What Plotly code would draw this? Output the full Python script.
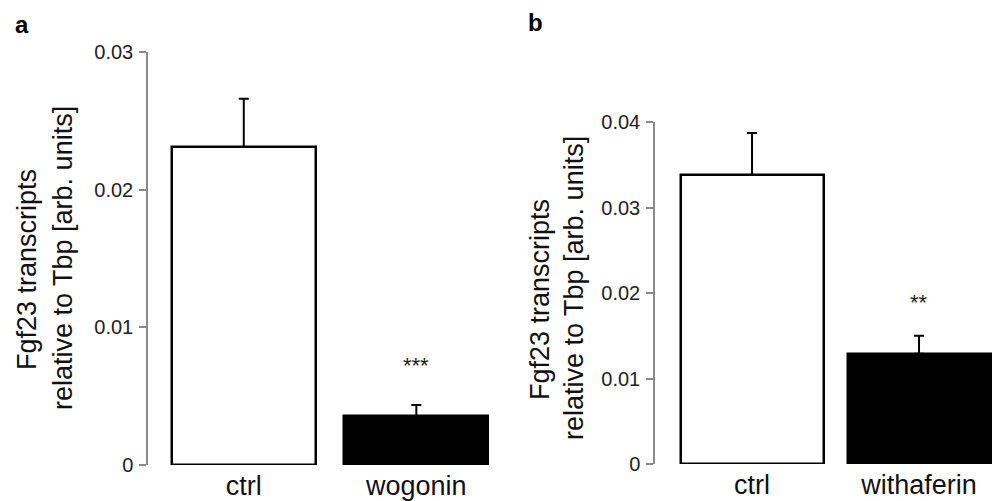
import plotly.graph_objects as go

# ---- data ----
cats_a = ["ctrl", "wogonin"]
vals_a = [0.0231, 0.00355]
err_a = [0.0035, 0.0008]
sig_a = ["", "***"]

cats_b = ["ctrl", "withaferin"]
vals_b = [0.0338, 0.0129]
err_b = [0.0049, 0.0021]
sig_b = ["", "**"]

ticks_a = [0, 0.01, 0.02, 0.03]
ticklabels_a = ["0", "0.01", "0.02", "0.03"]
ticks_b = [0, 0.01, 0.02, 0.03, 0.04]
ticklabels_b = ["0", "0.01", "0.02", "0.03", "0.04"]

ytitle_line1 = "Fgf23 transcripts"
ytitle_line2 = "relative to Tbp [arb. units]"

W, H = 992, 501
FONT = "Liberation Sans, Arial, sans-serif"
fill_colors = ["white", "black"]

fig = go.Figure()


def add_panel(cats, vals, errs, sig, xa, ya, width, star_shift):
    fig.add_trace(go.Bar(
        x=cats, y=vals, width=width,
        marker=dict(color=fill_colors, line=dict(color="black", width=2.5)),
        error_y=dict(type="data", symmetric=False, array=errs,
                     arrayminus=[0] * len(errs), color="black",
                     thickness=2, width=5),
        xaxis=xa, yaxis=ya, showlegend=False, hoverinfo="skip",
    ))
    for c, v, e, s in zip(cats, vals, errs, sig):
        if s:
            fig.add_annotation(x=c, y=v + e, xref=xa, yref=ya, text=s,
                               showarrow=False, xanchor="center", yanchor="middle",
                               yshift=star_shift,
                               font=dict(family=FONT, size=22, color="#222"))


add_panel(cats_a, vals_a, err_a, sig_a, "x", "y", 0.835, 40)
add_panel(cats_b, vals_b, err_b, sig_b, "x2", "y2", 0.856, 33)

yaxis_common = dict(
    showgrid=False, zeroline=False, showline=True, linecolor="#8a8a8a",
    linewidth=1.5, ticks="outside", ticklen=7, tickcolor="#8a8a8a",
    tickwidth=1.5, tickfont=dict(family=FONT, size=20, color="#222"),
    ticklabelstandoff=2, automargin=False,
)
xaxis_common = dict(
    showgrid=False, zeroline=False, showline=False, ticks="",
    tickfont=dict(family=FONT, size=27, color="#111"),
    type="category", automargin=False, ticklabelstandoff=2,
)

fig.update_layout(
    template="none",
    width=W, height=H, margin=dict(l=0, r=0, t=0, b=0, autoexpand=False),
    paper_bgcolor="white", plot_bgcolor="white",
    bargap=0,
    xaxis=dict(domain=[148 / W, 494 / W], range=[-0.555, 1.45], anchor="y", **xaxis_common),
    yaxis=dict(domain=[(H - 465) / H, (H - 52) / H], range=[0, 0.03],
               tickvals=ticks_a, ticktext=ticklabels_a, anchor="x", **yaxis_common),
    xaxis2=dict(domain=[655 / W, 1.0], range=[-0.581, 1.437], anchor="y2", **xaxis_common),
    yaxis2=dict(domain=[(H - 464) / H, (H - 122) / H], range=[0, 0.04],
                tickvals=ticks_b, ticktext=ticklabels_b, anchor="x2", **yaxis_common),
)

# y-axis titles (two lines each) and panel letters
ann = [
    dict(text=ytitle_line1, x=27 / W, y=(H - 270) / H, textangle=-90),
    dict(text=ytitle_line2, x=63 / W, y=(H - 258) / H, textangle=-90),
    dict(text=ytitle_line1, x=540 / W, y=(H - 300) / H, textangle=-90),
    dict(text=ytitle_line2, x=574 / W, y=(H - 288) / H, textangle=-90),
]
for a in ann:
    fig.add_annotation(xref="paper", yref="paper", xanchor="center", yanchor="middle",
                       showarrow=False, font=dict(family=FONT, size=27, color="#111"), **a)

fig.add_annotation(text="<b>a</b>", xref="paper", yref="paper", x=22 / W, y=(H - 24) / H,
                   xanchor="center", yanchor="middle", showarrow=False,
                   font=dict(family=FONT, size=24, color="black"))
fig.add_annotation(text="<b>b</b>", xref="paper", yref="paper", x=535 / W, y=(H - 22) / H,
                   xanchor="center", yanchor="middle", showarrow=False,
                   font=dict(family=FONT, size=24, color="black"))

fig.write_html("out.html",
               config={"displayModeBar": False},
               post_script="document.body.style.margin='0';document.body.style.overflow='hidden';")
